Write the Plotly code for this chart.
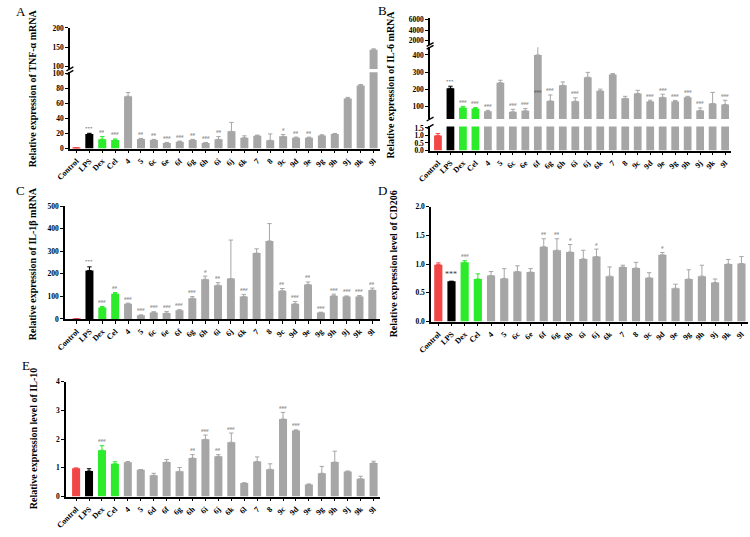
import plotly.graph_objects as go

W, H = 750, 537

CATS_ABCD = ["Control", "LPS", "Dex", "Cel", "4", "5", "6c", "6e", "6f", "6g", "6h", "6i",
             "6j", "6k", "7", "8", "9c", "9d", "9e", "9g", "9h", "9j", "9k", "9l"]
CATS_E = ["Control", "LPS", "Dex", "Cel", "4", "5", "6d", "6f", "6g", "6h", "6i", "6j",
          "6k", "6l", "7", "8", "9c", "9d", "9e", "9g", "9h", "9j", "9k", "9l"]

tnf_val = [1.0, 19.4, 12.5, 11.5, 70, 12.8, 11.5, 7.5, 9.2, 11.5, 7.5, 12.3,
           23, 14.5, 17.2, 11, 16.3, 14.5, 14.5, 17.6, 19.4, 67, 84.5, 143]
tnf_err = [0, 1, 3.5, 1.3, 5, 0.8, 0.8, 0.7, 0.8, 0.8, 0.7, 3.7,
           12, 2.5, 0.8, 8.5, 2.5, 0.8, 0.8, 0.8, 0.8, 1.5, 1.2, 2.5]
tnf_sig = ["", "***", "##", "###", "", "##", "##", "###", "###", "##", "###", "##",
           "", "", "", "", "#", "##", "##", "", "", "", "", ""]

il6_val = [1.0, 205, 91, 87, 70, 238, 67, 73, 400, 131, 222, 129,
           270, 190, 285, 146, 175, 127, 152, 128, 153, 75, 116, 110]
il6_err = [0.13, 12, 8, 5, 6, 14, 15, 13, 60, 35, 20, 20,
           28, 10, 6, 12, 18, 8, 18, 6, 5, 15, 65, 25]
il6_sig = ["", "***", "###", "###", "###", "", "###", "###", "", "###", "", "###",
           "", "", "", "###", "", "###", "###", "###", "###", "###", "", "###"]

il1b_val = [1.0, 215, 51, 112, 67, 16, 29, 26, 38, 92, 176, 150,
            179, 100, 292, 346, 125, 67, 153, 28, 103, 99, 100, 128]
il1b_err = [0, 16, 4, 5, 3, 2, 3, 7, 3, 7, 14, 11,
            171, 9, 19, 77, 10, 10, 11, 2, 7, 3, 4, 9]
il1b_sig = ["", "***", "###", "##", "###", "###", "###", "###", "###", "###", "#", "##",
            "", "###", "", "", "##", "###", "##", "###", "###", "###", "###", "##"]

cd206_val = [0.99, 0.70, 1.03, 0.74, 0.80, 0.75, 0.87, 0.86, 1.30, 1.24, 1.21, 1.09,
             1.13, 0.79, 0.95, 0.93, 0.76, 1.16, 0.58, 0.74, 0.79, 0.68, 1.00, 1.01]
cd206_err = [0.03, 0.0, 0.03, 0.09, 0.07, 0.17, 0.10, 0.06, 0.14, 0.20, 0.13, 0.15,
             0.13, 0.16, 0.03, 0.10, 0.09, 0.04, 0.07, 0.16, 0.19, 0.06, 0.08, 0.12]
cd206_sig = ["", "***", "###", "", "", "", "", "", "##", "##", "#", "",
             "#", "", "", "", "", "#", "", "", "", "", "", ""]

il10_val = [0.99, 0.89, 1.61, 1.14, 1.19, 0.93, 0.74, 1.20, 0.88, 1.34, 1.99, 1.40,
            1.89, 0.47, 1.22, 0.95, 2.70, 2.30, 0.42, 0.81, 1.20, 0.87, 0.62, 1.17]
il10_err = [0, 0.08, 0.16, 0.07, 0.03, 0.01, 0.07, 0.09, 0.13, 0.12, 0.15, 0.06,
            0.32, 0.01, 0.16, 0.19, 0.23, 0.02, 0.02, 0.24, 0.38, 0.02, 0.09, 0.06]
il10_sig = ["", "", "###", "", "", "", "", "", "", "##", "###", "##",
            "###", "", "", "", "###", "###", "", "", "", "", "", ""]

RED, BLACK, GREEN, GRAY = "#F24545", "#000000", "#2BEB2B", "#A6A6A6"
SERIF = "Liberation Serif"


def group_color(cat):
    if cat == "Control":
        return RED
    if cat == "LPS":
        return BLACK
    if cat in ("Dex", "Cel"):
        return GREEN
    return GRAY


def px_x(p):
    return p / W


def px_y(p):
    return 1 - p / H


fig = go.Figure()
layout = {}
shapes = []
annotations = []
axis_counter = [0]

PANELS = [
    dict(name="A", cats=CATS_ABCD, val=tnf_val, err=tnf_err, sig=tnf_sig,
         xdom=(57, 373), xrange=(-0.5, 23.5),
         segs=[dict(r=(0, 102), py=(69.5, 147), tv=[0, 20, 40, 60, 80, 100], tt=None),
               dict(r=(93, 201), py=(24, 66), tv=[100, 150, 200], tt=None)],
         sigseg=0, title="Relative expression of TNF-α mRNA", tpos=(19, 86),
         letter=(7, 8)),
    dict(name="B", cats=CATS_ABCD, val=il6_val, err=il6_err, sig=il6_sig,
         xdom=(424, 731), xrange=(-0.63, 23.5),
         segs=[dict(r=(0, 1.6), py=(124.5, 149), tv=[0, 0.5, 1, 1.5], tt=["0.0", "0.5", "1.0", "1.5"]),
               dict(r=(25, 445), py=(44, 117), tv=[100, 200, 300, 400], tt=None),
               dict(r=(1200, 6300), py=(14.4, 41.2), tv=[2000, 4000, 6000], tt=None)],
         sigseg=1, title="Relative expression of IL-6 mRNA", tpos=(384, 82),
         letter=(375, 7)),
    dict(name="C", cats=CATS_ABCD, val=il1b_val, err=il1b_err, sig=il1b_sig,
         xdom=(52, 373), xrange=(-0.9, 23.6),
         segs=[dict(r=(0, 500), py=(205.7, 320.3), tv=[0, 100, 200, 300, 400, 500], tt=None)],
         sigseg=0, title="Relative expression of IL-1β mRNA", tpos=(19, 264),
         letter=(7, 190)),
    dict(name="D", cats=CATS_ABCD, val=cd206_val, err=cd206_err, sig=cd206_sig,
         xdom=(425, 748), xrange=(-0.55, 23.5),
         segs=[dict(r=(0, 2), py=(206, 323), tv=[0, 0.5, 1, 1.5, 2], tt=["0.0", "0.5", "1.0", "1.5", "2.0"])],
         sigseg=0, title="Relative expression level of CD206", tpos=(387, 264),
         letter=(375, 190)),
    dict(name="E", cats=CATS_E, val=il10_val, err=il10_err, sig=il10_sig,
         xdom=(53, 373), xrange=(-0.78, 23.5),
         segs=[dict(r=(0, 4), py=(384, 501), tv=[0, 1, 2, 3, 4], tt=None)],
         sigseg=0, title="Relative expression level of IL-10", tpos=(20, 442),
         letter=(12, 368)),
]

XTICKFONT = dict(family=SERIF, size=8, color="black", weight="bold")
YTICKFONT = dict(family=SERIF, size=7.5, color="black", weight="bold")

for panel in PANELS:
    cats = panel["cats"]
    seg_axes = []
    for si, seg in enumerate(panel["segs"]):
        axis_counter[0] += 1
        n = axis_counter[0]
        xname = "x" if n == 1 else f"x{n}"
        yname = "y" if n == 1 else f"y{n}"
        xkey = "xaxis" if n == 1 else f"xaxis{n}"
        ykey = "yaxis" if n == 1 else f"yaxis{n}"
        bottom = si == 0
        layout[xkey] = dict(
            domain=[px_x(panel["xdom"][0]), px_x(panel["xdom"][1])],
            range=list(panel["xrange"]), type="category",
            categoryorder="array", categoryarray=cats,
            anchor=yname, showgrid=False, zeroline=False,
            showline=bottom, linecolor="black", linewidth=1.6,
            ticks="outside" if bottom else "", ticklen=3, tickwidth=1.2, tickcolor="black",
            showticklabels=bottom, tickangle=-45, tickfont=XTICKFONT,
        )
        yax = dict(
            domain=[px_y(seg["py"][1]), px_y(seg["py"][0])],
            range=list(seg["r"]), anchor=xname, showgrid=False, zeroline=False,
            showline=True, linecolor="black", linewidth=1.6,
            ticks="outside", ticklen=3, tickwidth=1.2, tickcolor="black",
            tickvals=seg["tv"], tickfont=YTICKFONT,
        )
        if seg["tt"] is not None:
            yax["ticktext"] = seg["tt"]
        layout[ykey] = yax
        seg_axes.append((xname, yname))

        for color in (RED, BLACK, GREEN, GRAY):
            idx = [i for i, c in enumerate(cats) if group_color(c) == color]
            if not idx:
                continue
            fig.add_trace(go.Bar(
                x=[cats[i] for i in idx], y=[panel["val"][i] for i in idx],
                xaxis=xname, yaxis=yname, marker=dict(color=color, line=dict(width=0)),
                width=0.62, showlegend=False,
                error_y=dict(type="data", array=[panel["err"][i] for i in idx],
                             arrayminus=[0] * len(idx), symmetric=False,
                             color=color, thickness=1, width=2.2),
            ))

    sx, sy = seg_axes[panel["sigseg"]]
    for i, s in enumerate(panel["sig"]):
        if not s:
            continue
        big = panel["name"] == "D" and s == "***"
        annotations.append(dict(
            x=cats[i], y=panel["val"][i] + panel["err"][i], xref=sx, yref=sy,
            text=s, showarrow=False, yanchor="bottom", yshift=0.5,
            font=dict(family=SERIF, size=8 if big else 5, color="#333333"),
        ))

    xpx = panel["xdom"][0]
    for si in range(len(panel["segs"]) - 1):
        top_lower = panel["segs"][si]["py"][0]
        bot_upper = panel["segs"][si + 1]["py"][1]
        for yb in (top_lower, bot_upper):
            shapes.append(dict(type="line", xref="paper", yref="paper",
                               x0=px_x(xpx - 3.5), y0=px_y(yb + 2),
                               x1=px_x(xpx + 3.5), y1=px_y(yb - 2),
                               line=dict(color="black", width=1.4)))

    annotations.append(dict(
        x=px_x(panel["tpos"][0]), y=px_y(panel["tpos"][1]), xref="paper", yref="paper",
        text=f"<b>{panel['title']}</b>", textangle=-90, showarrow=False,
        xanchor="center", yanchor="middle",
        font=dict(family=SERIF, size=10, color="black"),
    ))
    annotations.append(dict(
        x=px_x(panel["letter"][0]), y=px_y(panel["letter"][1]), xref="paper", yref="paper",
        text=panel["name"], showarrow=False, xanchor="center", yanchor="middle",
        font=dict(family=SERIF, size=13, color="black"),
    ))

fig.update_layout(
    width=W, height=H, margin=dict(l=0, r=0, t=0, b=0),
    paper_bgcolor="white", plot_bgcolor="white",
    barmode="overlay", showlegend=False,
    shapes=shapes, annotations=annotations,
    **layout,
)

fig.write_html("out.html")
